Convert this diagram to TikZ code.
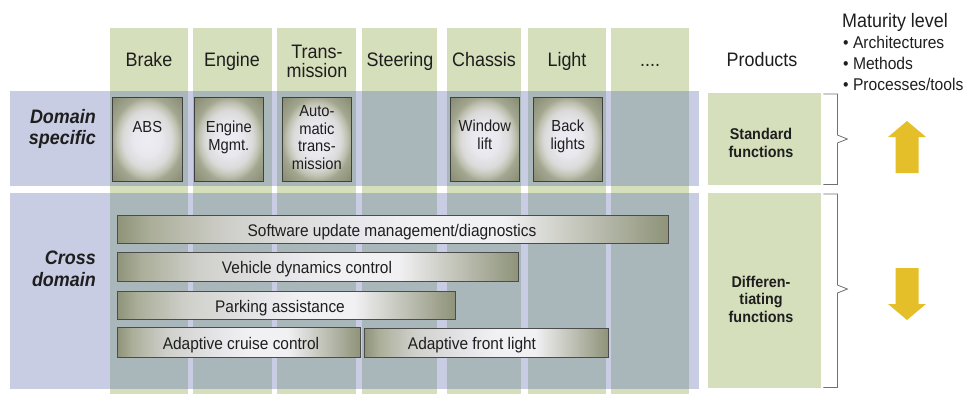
\documentclass[tikz,border=0pt]{standalone}
\usepackage{fontspec}
\setmainfont{Liberation Sans}[FakeStretch=0.92]

% palette
\definecolor{colgreen}{HTML}{D5DFBB}
\definecolor{rowlav}{HTML}{C9CDE3}
\definecolor{cellgray}{HTML}{A9B6BA}
\definecolor{glowc}{HTML}{EDEDF3}
\definecolor{glowa}{HTML}{E8E8EE}
\definecolor{glowm}{HTML}{D9DAD8}
\definecolor{glown}{HTML}{BEC0AF}
\definecolor{glowe}{HTML}{A3A790}
\definecolor{glowd}{HTML}{868B71}
\definecolor{bare}{HTML}{8E9379}
\definecolor{bard}{HTML}{ABAE99}
\definecolor{barl}{HTML}{CFCFCA}
\definecolor{barv}{HTML}{E8E8EC}
\definecolor{barw}{HTML}{F1F1F3}
\definecolor{gold}{HTML}{E5BF2A}
\definecolor{inkc}{HTML}{1E1E1E}
\definecolor{bracec}{HTML}{707070}

% soft glow inside the domain-specific boxes
\pgfdeclareradialshading{boxglow}{\pgfpoint{0bp}{0bp}}{%
  color(0bp)=(glowc); color(10bp)=(glowa); color(17.5bp)=(glowm);
  color(22bp)=(glown); color(25bp)=(glowe); color(35bp)=(glowd); color(50bp)=(glowd)}
% left-to-right fade of the cross-domain bars
\pgfdeclarehorizontalshading{barfade}{100bp}{%
  color(0bp)=(bare); color(25bp)=(bare); color(28bp)=(bard); color(35bp)=(barl);
  color(47bp)=(barv); color(52bp)=(barw); color(60bp)=(barw); color(75bp)=(bare);
  color(100bp)=(bare)}

\begin{document}
\begin{tikzpicture}[x=1pt,y=-1pt,
  colband/.style={fill=colgreen},
  rowband/.style={fill=rowlav},
  cellshade/.style={fill=cellgray},
  hdr/.style={font=\fontsize{19.5}{19}\selectfont, text=inkc, inner sep=0pt, anchor=base, align=center},
  rowlabel/.style={font=\fontsize{19.5}{21.5}\selectfont\bfseries\itshape, text=inkc, inner sep=0pt, anchor=base east, align=right},
  dbox/.style={draw=black!75, line width=0.7pt, shading=boxglow, inner sep=0pt, anchor=north west, minimum height=84},
  dtext/.style={font=\fontsize{16}{17.5}\selectfont, text=inkc, inner sep=0pt, anchor=base, align=center},
  fbar/.style={draw=black!70, line width=0.7pt, shading=barfade, inner sep=0pt, anchor=north west},
  btext/.style={font=\fontsize{16.8}{18}\selectfont, text=inkc, inner sep=0pt, anchor=base},
  prodbox/.style={fill=colgreen, inner sep=0pt, anchor=north west, minimum width=113},
  ptext/.style={font=\fontsize{15.6}{17.5}\selectfont\bfseries, text=inkc, inner sep=0pt, anchor=base, align=center},
  brace/.style={draw=bracec, line width=0.8pt},
  goldarrow/.style={fill=gold},
  mattext/.style={text=inkc, inner sep=0pt, anchor=base west}
]
\useasboundingbox (0,0) rectangle (977,394);

% row bands
\fill[rowband] (10,91) rectangle (699,186);
\fill[rowband] (10,193) rectangle (699,389);

% domain columns and their shaded cells
\foreach \l/\r in {110/188,193/272,277/356,362/437,447/521,528/606,611/689}{
  \fill[colband] (\l,28) rectangle (\r,394);
  \fill[cellshade] (\l,91) rectangle (\r,186);
  \fill[cellshade] (\l,193) rectangle (\r,389);
}

% column headers (multi-line texts are placed by their last baseline)
\node[hdr] (hBrake) at (149,66) {Brake};
\node[hdr] (hEngine) at (232,66) {Engine};
\node[hdr] (hTrans) at (317,77) {Trans-\\mission};
\node[hdr] (hSteer) at (400,66) {Steering};
\node[hdr] (hChassis) at (484,66) {Chassis};
\node[hdr] (hLight) at (567,66) {Light};
\node[hdr] (hMore) at (650,66) {....};
\node[hdr] (hProd) at (762,66) {Products};

% row labels
\node[rowlabel] (lDomain) at (96,144.5) {Domain\\specific};
\node[rowlabel] (lCross) at (96,286) {Cross\\domain};

% domain-specific functions
\node[dbox, minimum width=70] (bABS) at (112,97) {};
\node[dbox, minimum width=69] (bEng) at (194,97) {};
\node[dbox, minimum width=69] (bAuto) at (282,97) {};
\node[dbox, minimum width=69] (bWin) at (450,97) {};
\node[dbox, minimum width=69] (bBack) at (533,97) {};
\node[dtext] (tABS) at (bABS.center |- 0,132) {ABS};
\node[dtext] (tEng) at (bEng.center |- 0,150) {Engine\\Mgmt.};
\node[dtext] (tAuto) at (bAuto.center |- 0,169) {Auto-\\matic\\trans-\\mission};
\node[dtext] (tWin) at (bWin.center |- 0,149) {Window\\lift};
\node[dtext] (tBack) at (bBack.center |- 0,149) {Back\\lights};

% cross-domain functions
\node[fbar, minimum width=551, minimum height=28] (bSw) at (117,215) {};
\node[fbar, minimum width=401, minimum height=29] (bVd) at (117,252) {};
\node[fbar, minimum width=338, minimum height=28] (bPa) at (117,291) {};
\node[fbar, minimum width=243, minimum height=30] (bAcc) at (117,327) {};
\node[fbar, minimum width=244, minimum height=29] (bAfl) at (364,328) {};
\node[btext] (tSw) at (392,236) {Software update management/diagnostics};
\node[btext] (tVd) at (307,273) {Vehicle dynamics control};
\node[btext] (tPa) at (280,312) {Parking assistance};
\node[btext] (tAcc) at (241,349) {Adaptive cruise control};
\node[btext] (tAfl) at (472,349) {Adaptive front light};

% product categories
\node[prodbox, minimum height=92] (std) at (708,93) {};
\node[prodbox, minimum height=195] (diff) at (708,193) {};
\node[ptext] (tStd) at (761,157) {Standard\\functions};
\node[ptext] (tDiff) at (761,322) {Differen-\\tiating\\functions};

% braces to the right of the products
\draw[brace] ([xshift=2pt,yshift=-1pt]std.north east) -| ++(14,41) -- ++(10,4) -- ++(-10,4)
  |- ([xshift=2pt,yshift=1pt]std.south east);
\draw[brace] ([xshift=2pt,yshift=-1pt]diff.north east) -| ++(14,91) -- ++(10,4) -- ++(-10,4)
  |- ([xshift=2pt,yshift=1pt]diff.south east);

% maturity arrows
\fill[goldarrow] (907,121) -- (926,137) -- (918.5,137) -- (918.5,173) -- (895.5,173)
  -- (895.5,137) -- (888,137) -- cycle;
\fill[goldarrow] (895.5,268) -- (918.5,268) -- (918.5,304) -- (926,304) -- (907,320)
  -- (888,304) -- (895.5,304) -- cycle;

% maturity legend
\node[mattext, font=\fontsize{19.5}{20}\selectfont] (mTitle) at (842,27) {Maturity level};
\node[mattext, font=\fontsize{17}{18}\selectfont] (mArch) at (843,48) {• Architectures};
\node[mattext, font=\fontsize{17}{18}\selectfont] (mMeth) at (843,69) {• Methods};
\node[mattext, font=\fontsize{17}{18}\selectfont] (mProc) at (843,90) {• Processes/tools};
\end{tikzpicture}
\end{document}
